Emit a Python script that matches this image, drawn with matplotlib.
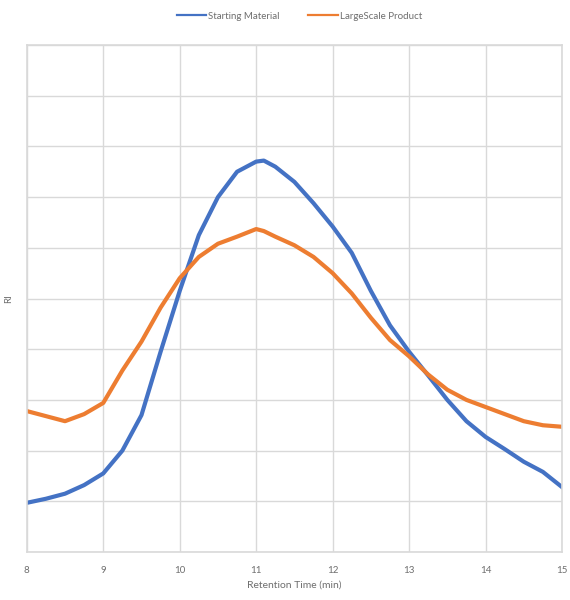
import matplotlib.pyplot as plt
from matplotlib.lines import Line2D

# retention time (min) and RI readings (grid units 0-10)
time = [8.0, 8.25, 8.5, 8.75, 9.0, 9.25, 9.5, 9.75, 10.0, 10.25, 10.5, 10.75,
        11.0, 11.1, 11.25, 11.5, 11.75, 12.0, 12.25, 12.5, 12.75, 13.0, 13.25,
        13.5, 13.75, 14.0, 14.25, 14.5, 14.75, 15.0]
starting = [0.97, 1.05, 1.15, 1.32, 1.55, 2.0, 2.7, 3.95, 5.15, 6.25, 7.0, 7.5,
            7.7, 7.72, 7.6, 7.3, 6.88, 6.42, 5.9, 5.15, 4.47, 3.95, 3.48,
            3.0, 2.58, 2.27, 2.03, 1.78, 1.58, 1.28]
large_scale = [2.78, 2.68, 2.58, 2.72, 2.94, 3.58, 4.15, 4.82, 5.4, 5.82, 6.08, 6.22,
               6.37, 6.33, 6.22, 6.05, 5.82, 5.5, 5.1, 4.62, 4.18, 3.86, 3.5,
               3.2, 3.0, 2.86, 2.72, 2.58, 2.5, 2.47]
x_ticks = [8, 9, 10, 11, 12, 13, 14, 15]
series_names = ['Starting Material', 'LargeScale Product']

plt.rcParams['font.family'] = ['Lato', 'DejaVu Sans']

BLUE = '#4472C4'
ORANGE = '#ED7D31'
GRID = '#D9D9D9'
TEXT = '#6E6E6E'

fig = plt.figure(figsize=(5.7, 6), dpi=100)
ax = fig.add_axes([0.047, 0.08, 0.939, 0.845])

ax.plot(time, starting, color=BLUE, lw=3.0, solid_joinstyle='round')
ax.plot(time, large_scale, color=ORANGE, lw=3.0, solid_joinstyle='round')

ax.set_xlim(8, 15)
ax.set_ylim(0, 10)
ax.set_xticks(x_ticks)
ax.set_yticks(range(0, 11))
ax.set_yticklabels([])
ax.grid(True, color=GRID, lw=1)
ax.set_axisbelow(True)
for s in ax.spines.values():
    s.set_color(GRID)
    s.set_linewidth(1.2)
ax.tick_params(length=0, labelsize=7, labelcolor=TEXT, pad=10)

ax.set_xlabel('Retention Time (min)', fontsize=7.5, color=TEXT, labelpad=4)
ax.set_ylabel('RI', fontsize=7, color=TEXT)
ax.yaxis.set_label_coords(-0.026, 0.5)

# legend with thin line handles, like the original
handles = [Line2D([], [], color=BLUE, lw=1.6), Line2D([], [], color=ORANGE, lw=1.6)]
fig.legend(handles, series_names, loc='upper center', bbox_to_anchor=(0.525, 0.995),
           ncol=2, frameon=False, fontsize=7, labelcolor=TEXT, handlelength=3.0,
           handletextpad=0.2, columnspacing=3.0)

fig.savefig('out.png', dpi=100)
